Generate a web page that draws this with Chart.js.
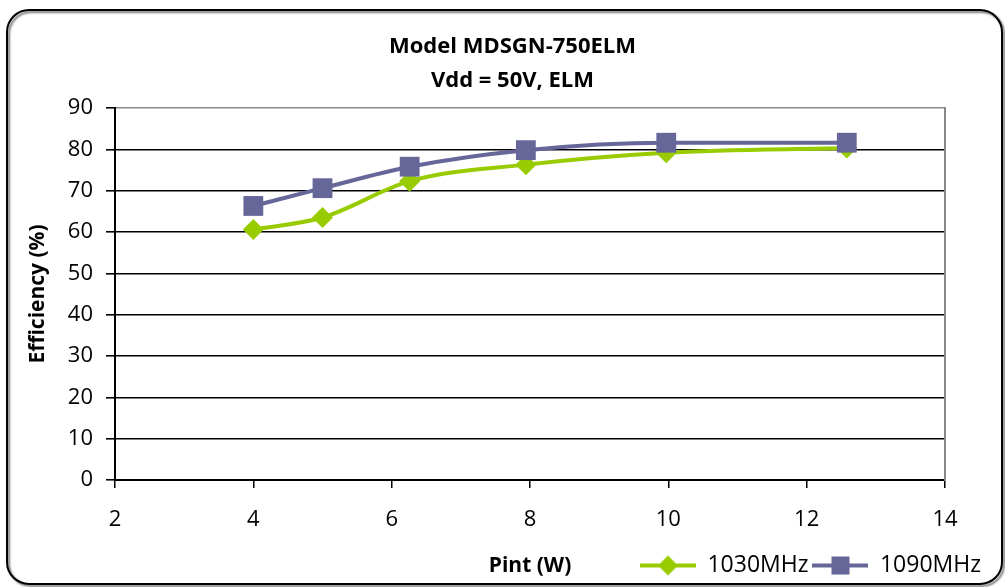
<!DOCTYPE html>
<html>
<head>
<meta charset="utf-8">
<script src="https://cdn.jsdelivr.net/npm/chart.js@4/dist/chart.umd.min.js"></script>
<style>
  body { margin: 0; background: #fff; }
  #chart { display: block; }
</style>
</head>
<body>
<canvas id="chart" width="1005" height="587"></canvas>
<script>
// valores
const pintW = [4.0, 5.0, 6.26, 7.94, 9.97, 12.58];
const eff1030 = [60.6, 63.5, 72.3, 76.3, 79.2, 80.3];
const eff1090 = [66.3, 70.6, 75.8, 79.8, 81.6, 81.6];
const seriesNames = ['1030MHz', '1090MHz'];
const titleLines = ['Model MDSGN-750ELM', 'Vdd = 50V, ELM'];

const verde = '#99CC00';
const roxo = '#666699';
const fonte = "'Open Sans', 'DejaVu Sans', sans-serif";

// simbolo da legenda: linha com marcador no meio
function simboloLegenda(cor, forma) {
    const c = document.createElement('canvas');
    c.width = 56;
    c.height = 26;
    const g = c.getContext('2d');
    g.strokeStyle = cor;
    g.lineWidth = 4;
    g.beginPath();
    g.moveTo(0, 13);
    g.lineTo(56, 13);
    g.stroke();
    g.fillStyle = cor;
    g.beginPath();
    if (forma === 'diamante') {
        g.moveTo(28, 3); g.lineTo(38, 13); g.lineTo(28, 23); g.lineTo(18, 13);
    } else {
        g.rect(19, 4, 18, 18);
    }
    g.closePath();
    g.fill();
    return c;
}
const simbolos = [simboloLegenda(verde, 'diamante'), simboloLegenda(roxo, 'quadrado')];

// moldura arredondada, fundo branco e titulo do eixo x
const moldura = {
    id: 'moldura',
    beforeDraw(chart) {
        const ctx = chart.ctx;
        ctx.save();
        ctx.fillStyle = '#fff';
        ctx.fillRect(0, 0, chart.width, chart.height);
        ctx.restore();
    },
    afterDraw(chart) {
        const ctx = chart.ctx;
        const area = chart.chartArea;
        ctx.save();
        ctx.shadowColor = 'rgba(0,0,0,0.55)';
        ctx.shadowOffsetX = 2;
        ctx.shadowOffsetY = 2;
        ctx.shadowBlur = 2;
        ctx.strokeStyle = '#000';
        ctx.lineWidth = 2;
        ctx.beginPath();
        ctx.roundRect(7, 10, 995, 574, 22);
        ctx.stroke();
        ctx.restore();

        // "Pint (W)" fica na mesma linha da legenda
        const leg = chart.legend;
        ctx.save();
        ctx.fillStyle = '#000';
        ctx.font = 'bold 21px ' + fonte;
        ctx.textAlign = 'center';
        ctx.textBaseline = 'middle';
        ctx.fillText('Pint (W)', (area.left + area.right) / 2, leg.top + 4 + 12);
        ctx.restore();
    }
};

const datasets = [
    {
        label: seriesNames[0],
        data: pintW.map((x, i) => ({ x: x, y: eff1030[i] })),
        borderColor: verde,
        backgroundColor: verde,
        borderWidth: 4,
        pointStyle: 'rectRot',
        pointRadius: 10.5,
        pointBorderWidth: 0,
        cubicInterpolationMode: 'monotone',
        order: 2
    },
    {
        label: seriesNames[1],
        data: pintW.map((x, i) => ({ x: x, y: eff1090[i] })),
        borderColor: roxo,
        backgroundColor: roxo,
        borderWidth: 4,
        pointStyle: 'rect',
        pointRadius: 14,
        pointBorderWidth: 0,
        cubicInterpolationMode: 'monotone',
        order: 1
    }
];

const chart = new Chart(document.getElementById('chart'), {
    type: 'line',
    data: { datasets: datasets },
    options: {
        responsive: false,
        animation: false,
        devicePixelRatio: 1,
        layout: { padding: { left: 40, right: 20, top: 0, bottom: 0 } },
        plugins: {
            title: {
                display: true,
                text: titleLines,
                color: '#000',
                font: { family: fonte, size: 22, weight: 'bold', lineHeight: 34 / 22 },
                padding: { top: 30, bottom: 10 }
            },
            legend: {
                position: 'bottom',
                align: 'end',
                labels: {
                    usePointStyle: true,
                    pointStyleWidth: 56,
                    padding: 4,
                    color: '#000',
                    font: { family: fonte, size: 23 },
                    generateLabels(ch) {
                        return ch.data.datasets.map((ds, i) => ({
                            text: ds.label,
                            pointStyle: simbolos[i],
                            fillStyle: ds.backgroundColor,
                            strokeStyle: ds.borderColor,
                            lineWidth: 0,
                            fontColor: '#000',
                            hidden: false,
                            datasetIndex: i
                        }));
                    }
                }
            },
            tooltip: { enabled: false }
        },
        scales: {
            x: {
                type: 'linear',
                position: 'bottom',
                min: 2,
                max: 14,
                afterFit(s) { s.height = 70; },
                ticks: {
                    stepSize: 2,
                    autoSkip: false,
                    maxRotation: 0,
                    padding: 19,
                    color: '#000',
                    font: { family: fonte, size: 22 }
                },
                grid: { drawOnChartArea: false, color: '#000', tickLength: 8, lineWidth: 1.5 },
                border: { color: '#000', width: 2 }
            },
            y: {
                position: 'left',
                min: 0,
                max: 90,
                afterFit(s) { s.width = 75; },
                ticks: {
                    stepSize: 10,
                    padding: 13,
                    color: '#000',
                    font: { family: fonte, size: 22 }
                },
                title: {
                    display: true,
                    text: 'Efficiency (%)',
                    color: '#000',
                    font: { family: fonte, size: 21, weight: 'bold' },
                    padding: { top: -15, bottom: 0 }
                },
                grid: {
                    color: c => (c.tick && c.tick.value === 90 ? '#888' : '#000'),
                    tickColor: '#000',
                    tickLength: 9,
                    lineWidth: 1.6
                },
                border: { color: '#000', width: 2 }
            },
            // eixo fantasma a direita so para a borda cinza da area
            y2: {
                position: 'right',
                min: 0,
                max: 90,
                afterFit(s) { s.width = 40; },
                ticks: { display: false },
                grid: { drawOnChartArea: false, drawTicks: false },
                border: { color: '#888', width: 2 }
            }
        }
    },
    plugins: [moldura]
});
</script>
</body>
</html>
